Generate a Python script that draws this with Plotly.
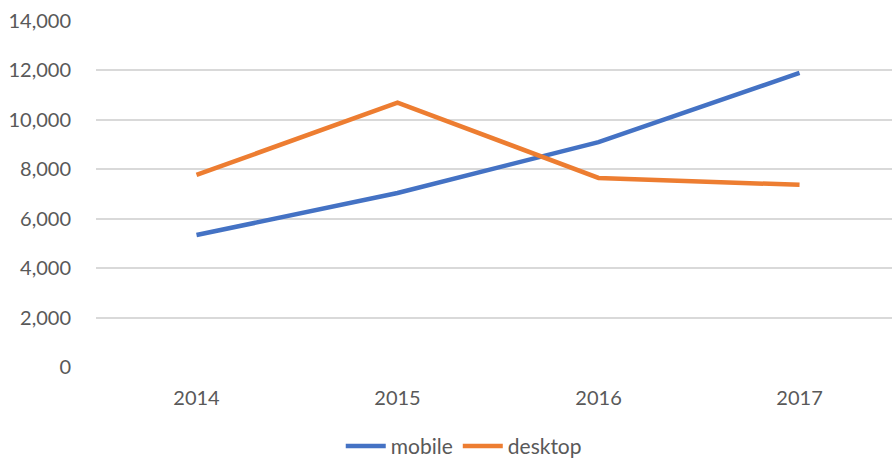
import plotly.graph_objects as go

years = ["2014", "2015", "2016", "2017"]
mobile = [5340, 7040, 9100, 11900]
desktop = [7770, 10700, 7650, 7370]
y_ticks = [0, 2000, 4000, 6000, 8000, 10000, 12000, 14000]

fig = go.Figure()
fig.add_trace(go.Scatter(x=years, y=mobile, mode="lines", name="mobile",
                         line=dict(color="#4472C4", width=4.5)))
fig.add_trace(go.Scatter(x=years, y=desktop, mode="lines", name="desktop",
                         line=dict(color="#ED7D31", width=4.5)))

font = dict(family="Lato, Open Sans, sans-serif", size=20, color="#595959")
legend_font = dict(family="Lato, Open Sans, sans-serif", size=21, color="#595959")
fig.update_layout(
    width=892, height=461,
    margin=dict(l=96, r=0, t=21, b=94, autoexpand=False),
    paper_bgcolor="white", plot_bgcolor="white",
    font=font,
    showlegend=True,
    legend=dict(orientation="h", x=0.462, xanchor="center", y=-0.17, yanchor="top",
                font=legend_font, itemwidth=40, tracegroupgap=0),
    xaxis=dict(type="category", range=[-0.5, 3.46], showgrid=False, zeroline=False,
               showline=False, ticks="", ticklabelstandoff=17, tickfont=font,
               automargin=False),
    yaxis=dict(range=[0, 14000], tickvals=y_ticks, tickformat=",d",
               showgrid=True, gridcolor="#d9d9d9", gridwidth=1.5,
               zeroline=False, showline=False, ticks="", ticklabelstandoff=24,
               tickfont=font, automargin=False),
)
fig.write_html("out.html")
